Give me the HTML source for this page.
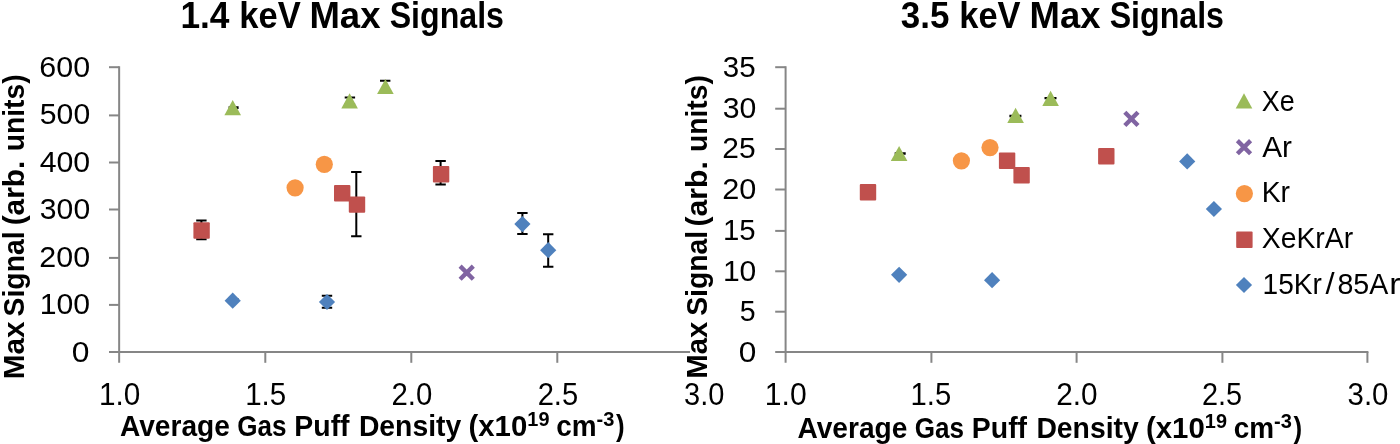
<!DOCTYPE html>
<html><head><meta charset="utf-8"><title>Max Signals</title>
<style>
html,body{margin:0;padding:0;background:#fff;}
body{width:1400px;height:444px;overflow:hidden;}
svg{display:block;font-family:"Liberation Sans",sans-serif;fill:#000;}
</style></head><body>
<svg width="1400" height="444" viewBox="0 0 1400 444">
<rect width="1400" height="444" fill="#fff"/>
<g stroke="#868686" stroke-width="2" fill="none">
<path d="M119.15,66.2V362.8"/>
<path d="M109.0,352.0H690"/>
<path d="M109.0,67.20H119.15"/>
<path d="M109.0,115.40H119.15"/>
<path d="M109.0,162.50H119.15"/>
<path d="M109.0,209.50H119.15"/>
<path d="M109.0,257.90H119.15"/>
<path d="M109.0,304.90H119.15"/>
<path d="M265.30,352.0V362.8"/>
<path d="M411.30,352.0V362.8"/>
<path d="M557.30,352.0V362.8"/>
</g>
<g stroke="#868686" stroke-width="2" fill="none">
<path d="M785.6,66.2V362.8"/>
<path d="M775.2,352.0H1368.4"/>
<path d="M775.2,67.20H785.6"/>
<path d="M775.2,108.70H785.6"/>
<path d="M775.2,149.00H785.6"/>
<path d="M775.2,189.50H785.6"/>
<path d="M775.2,230.90H785.6"/>
<path d="M775.2,271.30H785.6"/>
<path d="M775.2,311.70H785.6"/>
<path d="M931.40,352.0V362.8"/>
<path d="M1076.60,352.0V362.8"/>
<path d="M1222.40,352.0V362.8"/>
<path d="M1367.40,352.0V362.8"/>
</g>
<path d="M233.6,107.3V107.9M228.6,107.3h10M228.6,107.9h10" stroke="#000" stroke-width="2" fill="none"/>
<path d="M349.9,97.4V104.2M344.7,97.4h10.4M344.7,104.2h10.4" stroke="#000" stroke-width="2" fill="none"/>
<path d="M385.2,80.7V92.3M380.0,80.7h10.4M380.0,92.3h10.4" stroke="#000" stroke-width="2" fill="none"/>
<path d="M201.4,220.5V239.2M196.2,220.5h10.4M196.2,239.2h10.4" stroke="#000" stroke-width="2" fill="none"/>
<path d="M356.3,171.9V236.2M351.1,171.9h10.4M351.1,236.2h10.4" stroke="#000" stroke-width="2" fill="none"/>
<path d="M440.6,161.1V184.6M435.4,161.1h10.4M435.4,184.6h10.4" stroke="#000" stroke-width="2" fill="none"/>
<path d="M233.5,299.2V300.0M228.5,299.2h10M228.5,300.0h10" stroke="#000" stroke-width="2" fill="none"/>
<path d="M327.0,295.7V307.7M321.8,295.7h10.4M321.8,307.7h10.4" stroke="#000" stroke-width="2" fill="none"/>
<path d="M522.4,213.0V234.0M517.2,213.0h10.4M517.2,234.0h10.4" stroke="#000" stroke-width="2" fill="none"/>
<path d="M548.2,234.2V266.7M543.0,234.2h10.4M543.0,266.7h10.4" stroke="#000" stroke-width="2" fill="none"/>
<polygon points="232.7,292.6 240.8,300.7 232.7,308.8 224.6,300.7" fill="#4F81BD"/>
<polygon points="327.0,293.9 335.1,302.0 327.0,310.1 318.9,302.0" fill="#4F81BD"/>
<polygon points="522.4,216.0 530.5,224.1 522.4,232.2 514.3,224.1" fill="#4F81BD"/>
<polygon points="548.2,242.1 556.3,250.2 548.2,258.3 540.1,250.2" fill="#4F81BD"/>
<rect x="193.4" y="222.3" width="16.4" height="16.4" rx="1" fill="#C0504D"/>
<rect x="334.0" y="185.0" width="16.4" height="16.4" rx="1" fill="#C0504D"/>
<rect x="348.8" y="196.4" width="16.4" height="16.4" rx="1" fill="#C0504D"/>
<rect x="432.9" y="166.1" width="16.4" height="16.4" rx="1" fill="#C0504D"/>
<circle cx="295.1" cy="187.8" r="8.6" fill="#F79646"/>
<circle cx="324.3" cy="164.3" r="8.6" fill="#F79646"/>
<path d="M460.1,266.1L473.3,279.3M460.1,279.3L473.3,266.1" stroke="#8064A2" stroke-width="4.4" fill="none"/>
<polygon points="232.7,100.0 241.0,115.2 224.4,115.2" fill="#9BBB59"/>
<polygon points="349.6,93.2 357.9,108.4 341.3,108.4" fill="#9BBB59"/>
<polygon points="385.4,78.9 393.7,94.1 377.1,94.1" fill="#9BBB59"/>
<path d="M900.2,153.3V153.7M894.7,153.3h11.0M894.7,153.7h11.0" stroke="#000" stroke-width="2" fill="none"/>
<path d="M1015.4,115.8V116.2M1009.4,115.8h12.0M1009.4,116.2h12.0" stroke="#000" stroke-width="2" fill="none"/>
<path d="M1050.5,97.9V98.3M1044.5,97.9h12.0M1044.5,98.3h12.0" stroke="#000" stroke-width="2" fill="none"/>
<polygon points="899.1,266.7 907.2,274.8 899.1,282.9 891.0,274.8" fill="#4F81BD"/>
<polygon points="992.1,272.1 1000.2,280.2 992.1,288.3 984.0,280.2" fill="#4F81BD"/>
<polygon points="1187.2,153.3 1195.3,161.4 1187.2,169.5 1179.1,161.4" fill="#4F81BD"/>
<polygon points="1213.9,200.9 1222.0,209.0 1213.9,217.1 1205.8,209.0" fill="#4F81BD"/>
<rect x="859.8" y="184.1" width="16.4" height="16.4" rx="1" fill="#C0504D"/>
<rect x="998.9" y="152.6" width="16.4" height="16.4" rx="1" fill="#C0504D"/>
<rect x="1013.4" y="167.1" width="16.4" height="16.4" rx="1" fill="#C0504D"/>
<rect x="1098.1" y="148.0" width="16.4" height="16.4" rx="1" fill="#C0504D"/>
<circle cx="961.4" cy="160.8" r="8.6" fill="#F79646"/>
<circle cx="990.0" cy="147.6" r="8.6" fill="#F79646"/>
<path d="M1124.8,112.3L1138.0,125.5M1124.8,125.5L1138.0,112.3" stroke="#8064A2" stroke-width="4.4" fill="none"/>
<polygon points="899.1,145.9 907.4,161.1 890.8,161.1" fill="#9BBB59"/>
<polygon points="1015.6,107.8 1023.9,123.0 1007.3,123.0" fill="#9BBB59"/>
<polygon points="1050.6,90.8 1058.9,106.0 1042.3,106.0" fill="#9BBB59"/>
<polygon points="1244.0,93.2 1252.3,108.4 1235.7,108.4" fill="#9BBB59"/>
<path d="M1237.4,140.6L1250.6,153.8M1237.4,153.8L1250.6,140.6" stroke="#8064A2" stroke-width="4.4" fill="none"/>
<circle cx="1244.4" cy="193.6" r="8.6" fill="#F79646"/>
<rect x="1236.2" y="231.5" width="16.4" height="16.4" rx="1" fill="#C0504D"/>
<polygon points="1244.0,276.9 1252.1,285.0 1244.0,293.1 1235.9,285.0" fill="#4F81BD"/>
<text x="39.37" y="77.00" font-size="30.4" textLength="50.78" lengthAdjust="spacingAndGlyphs">600</text>
<text x="39.86" y="124.48" font-size="30.4" textLength="50.29" lengthAdjust="spacingAndGlyphs">500</text>
<text x="39.63" y="171.96" font-size="30.4" textLength="50.53" lengthAdjust="spacingAndGlyphs">400</text>
<text x="39.86" y="219.44" font-size="30.4" textLength="50.29" lengthAdjust="spacingAndGlyphs">300</text>
<text x="39.37" y="266.92" font-size="30.4" textLength="50.78" lengthAdjust="spacingAndGlyphs">200</text>
<text x="39.81" y="314.40" font-size="30.4" textLength="50.34" lengthAdjust="spacingAndGlyphs">100</text>
<text x="71.71" y="361.88" font-size="30.4" textLength="17.69" lengthAdjust="spacingAndGlyphs">0</text>
<text x="98.89" y="404.90" font-size="31.0" textLength="41.30" lengthAdjust="spacingAndGlyphs">1.0</text>
<text x="245.15" y="404.90" font-size="31.0" textLength="41.04" lengthAdjust="spacingAndGlyphs">1.5</text>
<text x="391.52" y="404.90" font-size="31.0" textLength="40.81" lengthAdjust="spacingAndGlyphs">2.0</text>
<text x="537.63" y="404.90" font-size="31.0" textLength="40.55" lengthAdjust="spacingAndGlyphs">2.5</text>
<text x="684.09" y="404.90" font-size="31.0" textLength="40.33" lengthAdjust="spacingAndGlyphs">3.0</text>
<text x="722.78" y="77.00" font-size="30.4" textLength="32.82" lengthAdjust="spacingAndGlyphs">35</text>
<text x="722.76" y="117.70" font-size="30.4" textLength="33.60" lengthAdjust="spacingAndGlyphs">30</text>
<text x="722.30" y="158.40" font-size="30.4" textLength="33.32" lengthAdjust="spacingAndGlyphs">25</text>
<text x="722.26" y="199.10" font-size="30.4" textLength="34.10" lengthAdjust="spacingAndGlyphs">20</text>
<text x="722.97" y="239.80" font-size="30.4" textLength="32.62" lengthAdjust="spacingAndGlyphs">15</text>
<text x="722.92" y="280.50" font-size="30.4" textLength="33.43" lengthAdjust="spacingAndGlyphs">10</text>
<text x="739.71" y="321.20" font-size="30.4" textLength="15.84" lengthAdjust="spacingAndGlyphs">5</text>
<text x="738.81" y="361.90" font-size="30.4" textLength="17.57" lengthAdjust="spacingAndGlyphs">0</text>
<text x="764.82" y="404.90" font-size="31.0" textLength="41.83" lengthAdjust="spacingAndGlyphs">1.0</text>
<text x="910.57" y="404.90" font-size="31.0" textLength="40.61" lengthAdjust="spacingAndGlyphs">1.5</text>
<text x="1056.31" y="404.90" font-size="31.0" textLength="41.33" lengthAdjust="spacingAndGlyphs">2.0</text>
<text x="1202.05" y="404.90" font-size="31.0" textLength="40.12" lengthAdjust="spacingAndGlyphs">2.5</text>
<text x="1347.58" y="404.90" font-size="31.0" textLength="40.85" lengthAdjust="spacingAndGlyphs">3.0</text>
<text font-size="36.0" font-weight="700"><tspan x="180.39" y="27.50" textLength="49.08" lengthAdjust="spacingAndGlyphs">1.4</tspan> <tspan x="239.24" y="27.50" textLength="61.49" lengthAdjust="spacingAndGlyphs">keV</tspan> <tspan x="309.42" y="27.50" textLength="71.05" lengthAdjust="spacingAndGlyphs">Max</tspan> <tspan x="389.70" y="27.50" textLength="114.30" lengthAdjust="spacingAndGlyphs">Signals</tspan></text>
<text font-size="36.0" font-weight="700"><tspan x="900.75" y="27.50" textLength="48.62" lengthAdjust="spacingAndGlyphs">3.5</tspan> <tspan x="959.24" y="27.50" textLength="61.39" lengthAdjust="spacingAndGlyphs">keV</tspan> <tspan x="1029.52" y="27.50" textLength="70.95" lengthAdjust="spacingAndGlyphs">Max</tspan> <tspan x="1109.70" y="27.50" textLength="114.30" lengthAdjust="spacingAndGlyphs">Signals</tspan></text>
<text font-size="28.8" font-weight="700"><tspan x="119.96" y="435.70" textLength="109.94" lengthAdjust="spacingAndGlyphs">Average</tspan> <tspan x="237.29" y="435.70" textLength="49.27" lengthAdjust="spacingAndGlyphs">Gas</tspan> <tspan x="294.32" y="435.70" textLength="55.27" lengthAdjust="spacingAndGlyphs">Puff</tspan> <tspan x="358.93" y="435.70" textLength="102.29" lengthAdjust="spacingAndGlyphs">Density</tspan> <tspan x="468.52" y="435.70" textLength="58.77" lengthAdjust="spacingAndGlyphs">(x10</tspan><tspan x="527.36" y="425.90" font-size="20.0" textLength="22.14" lengthAdjust="spacingAndGlyphs">19</tspan> <tspan x="556.33" y="435.70" textLength="40.38" lengthAdjust="spacingAndGlyphs">cm</tspan><tspan x="596.57" y="425.90" font-size="20.0" textLength="17.83" lengthAdjust="spacingAndGlyphs">-3</tspan><tspan x="616.10" y="435.70" textLength="8.64" lengthAdjust="spacingAndGlyphs">)</tspan></text>
<text font-size="28.8" font-weight="700"><tspan x="797.46" y="437.95" textLength="109.94" lengthAdjust="spacingAndGlyphs">Average</tspan> <tspan x="914.79" y="437.95" textLength="49.27" lengthAdjust="spacingAndGlyphs">Gas</tspan> <tspan x="971.82" y="437.95" textLength="55.27" lengthAdjust="spacingAndGlyphs">Puff</tspan> <tspan x="1036.43" y="437.95" textLength="102.29" lengthAdjust="spacingAndGlyphs">Density</tspan> <tspan x="1146.02" y="437.95" textLength="58.77" lengthAdjust="spacingAndGlyphs">(x10</tspan><tspan x="1204.86" y="428.15" font-size="20.0" textLength="22.14" lengthAdjust="spacingAndGlyphs">19</tspan> <tspan x="1233.83" y="437.95" textLength="40.38" lengthAdjust="spacingAndGlyphs">cm</tspan><tspan x="1274.07" y="428.15" font-size="20.0" textLength="17.83" lengthAdjust="spacingAndGlyphs">-3</tspan><tspan x="1293.60" y="437.95" textLength="8.64" lengthAdjust="spacingAndGlyphs">)</tspan></text>
<text font-size="28.8" font-weight="700" transform="translate(23.70,377.50) rotate(-90)"><tspan x="-1.86" y="0.00" textLength="57.97" lengthAdjust="spacingAndGlyphs">Max</tspan> <tspan x="61.06" y="0.00" textLength="85.02" lengthAdjust="spacingAndGlyphs">Signal</tspan> <tspan x="152.20" y="0.00" textLength="64.56" lengthAdjust="spacingAndGlyphs">(arb.</tspan> <tspan x="226.17" y="0.00" textLength="77.05" lengthAdjust="spacingAndGlyphs">units)</tspan></text>
<text font-size="28.8" font-weight="700" transform="translate(706.90,377.00) rotate(-90)"><tspan x="-1.84" y="0.00" textLength="57.15" lengthAdjust="spacingAndGlyphs">Max</tspan> <tspan x="61.16" y="0.00" textLength="85.02" lengthAdjust="spacingAndGlyphs">Signal</tspan> <tspan x="150.59" y="0.00" textLength="65.19" lengthAdjust="spacingAndGlyphs">(arb.</tspan> <tspan x="224.97" y="0.00" textLength="76.95" lengthAdjust="spacingAndGlyphs">units)</tspan></text>
<text x="1261.78" y="110.90" font-size="29.7" textLength="32.91" lengthAdjust="spacingAndGlyphs">Xe</text>
<text x="1262.20" y="156.60" font-size="29.7" textLength="29.75" lengthAdjust="spacingAndGlyphs">Ar</text>
<text x="1261.68" y="202.30" font-size="29.7" textLength="28.35" lengthAdjust="spacingAndGlyphs">Kr</text>
<text x="1261.76" y="248.00" font-size="29.7" textLength="91.38" lengthAdjust="spacingAndGlyphs">XeKrAr</text>
<text font-size="29.7"><tspan x="1262.55" y="293.70" textLength="59.29" lengthAdjust="spacingAndGlyphs">15Kr</tspan><tspan x="1325.60" y="293.70" textLength="9.09" lengthAdjust="spacingAndGlyphs">/</tspan><tspan x="1337.41" y="293.70" textLength="50.85" lengthAdjust="spacingAndGlyphs">85A</tspan><tspan x="1389.28" y="293.70" textLength="11.28" lengthAdjust="spacingAndGlyphs">r</tspan></text>
</svg></body></html>
